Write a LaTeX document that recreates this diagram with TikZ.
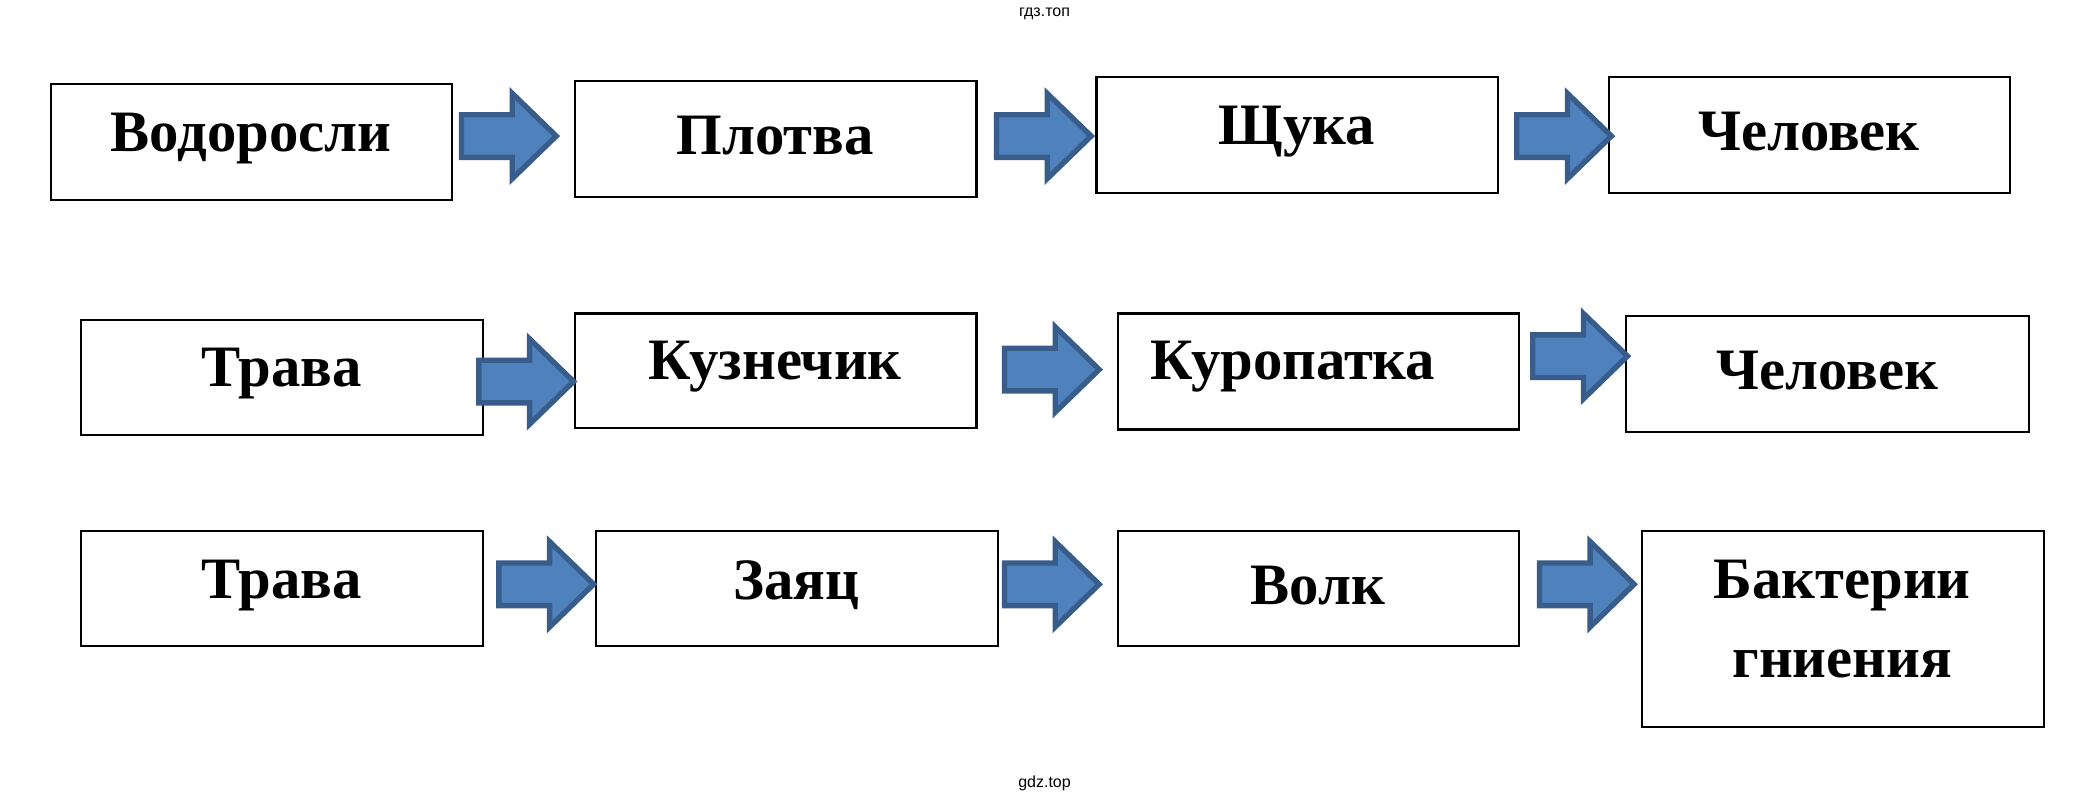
\documentclass[tikz,border=0pt]{standalone}
\usepackage{fontspec}
\setmainfont{Liberation Serif}
\newfontfamily\wm{Liberation Sans}
\begin{document}
\begin{tikzpicture}[x=0.5pt,y=-0.5pt,
  bx/.style={draw=black,line width=0.8pt,fill=white},
  lbl/.style={font=\fontsize{22}{26}\selectfont\bfseries,inner sep=0pt,align=center},
  wmk/.style={font=\wm\fontsize{6}{7}\selectfont,inner sep=0pt}]
\useasboundingbox (0,0) rectangle (1560,600);
\fill[white] (0,0) rectangle (1560,600);
\newcommand\bluearr[3]{% name, left x, center y
  \draw[fill={rgb,255:red,79;green,129;blue,189},draw={rgb,255:red,56;green,93;blue,138},line width=2pt,line join=miter]
   (#2,#3-16) -- (#2+38,#3-16) -- (#2+38,#3-32) -- (#2+71,#3) -- (#2+38,#3+32) -- (#2+38,#3+16) -- (#2,#3+16) -- cycle;
  \coordinate (#1) at (#2+35,#3);}
% row 1
\draw[bx] (38,63) rectangle (339,150); \node[lbl] (a1) at (188,104) {Водоросли};
\draw[bx] (431,61) rectangle (732,148); \node[lbl] (a2) at (581,102) {Плотва};
\draw[bx] (822,58) rectangle (1123,145); \node[lbl] (a3) at (972,99) {Щука};
\draw[bx] (1206,58) rectangle (1507,145); \node[lbl] (a4) at (1356,99) {Человек};
\bluearr{r1a}{346}{102}\bluearr{r1b}{747}{102}\bluearr{r1c}{1137}{102}
% row 2
\draw[bx] (61,240) rectangle (362,326); \node[lbl] (b1) at (211,280) {Трава};
\draw[bx] (431,235) rectangle (732,321); \node[lbl] (b2) at (581,275) {Кузнечик};
\draw[bx] (838,235) rectangle (1139,322); \node[lbl] (b3) at (969,275) {Куропатка};
\draw[bx] (1219,237) rectangle (1521,324); \node[lbl] (b4) at (1370,278) {Человек};
\bluearr{r2a}{359}{286}\bluearr{r2b}{753}{277}\bluearr{r2c}{1149}{267}
% row 3
\draw[bx] (61,398) rectangle (362,484); \node[lbl] (c1) at (211,439) {Трава};
\draw[bx] (447,398) rectangle (748,484); \node[lbl] (c2) at (597,439) {Заяц};
\draw[bx] (838,398) rectangle (1139,484); \node[lbl] (c3) at (988,439) {Волк};
\draw[bx] (1231,398) rectangle (1532,545); \node[lbl] (c4) at (1381,439) {Бактерии};
\node[lbl] (c5) at (1381,498) {гниения};
\bluearr{r3a}{374}{438}\bluearr{r3b}{753}{438}\bluearr{r3c}{1154}{438}
\node[wmk] (w1) at (783,10) {гдз.топ};
\node[wmk] (w2) at (783,587) {gdz.top};
\end{tikzpicture}
\end{document}
